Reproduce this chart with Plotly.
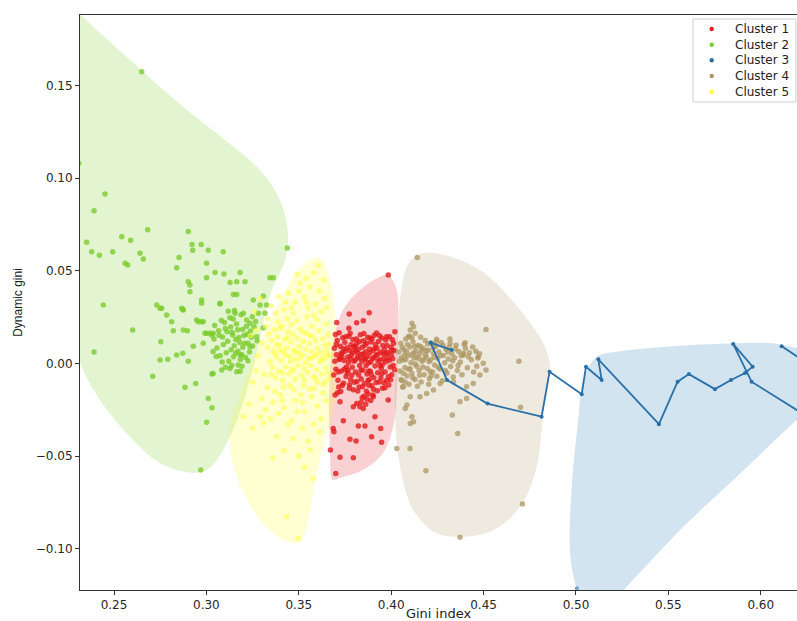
import plotly.graph_objects as go

# ---------------- data ----------------
cluster_names = ["Cluster 1", "Cluster 2", "Cluster 3", "Cluster 4", "Cluster 5"]

# Cluster 1 (red)
c1_x = [0.3984, 0.3773, 0.3881, 0.3705, 0.3813, 0.3849, 0.3771, 0.4020, 0.3975,
        0.3723, 0.3795, 0.3849, 0.3903, 0.3984, 0.3831, 0.3813, 0.3696, 0.3912, 0.3741,
        0.3686, 0.3690, 0.3822, 0.3858, 0.3943, 0.3777, 0.3810, 0.3894, 0.3948, 0.3671,
        0.3723, 0.3795, 0.3700,
        0.3692, 0.3701, 0.3695, 0.3708, 0.3712, 0.3689, 0.3704, 0.3716, 0.3698, 0.3719,
        0.3724, 0.3731, 0.3738, 0.3742, 0.3745, 0.3752, 0.3727, 0.3756, 0.3733, 0.3749, 0.3758, 0.3728,
        0.3763, 0.3767, 0.3771, 0.3775, 0.3779, 0.3783, 0.3787, 0.3791, 0.3795, 0.3798, 0.3769, 0.3781, 0.3793, 0.3776, 0.3789,
        0.3803, 0.3807, 0.3811, 0.3815, 0.3818, 0.3822, 0.3826, 0.3829, 0.3833, 0.3837, 0.3806, 0.3824, 0.3838, 0.3813, 0.3831,
        0.3843, 0.3847, 0.3851, 0.3855, 0.3859, 0.3862, 0.3866, 0.3869, 0.3873, 0.3877, 0.3849, 0.3864, 0.3875, 0.3858, 0.3871,
        0.3883, 0.3887, 0.3891, 0.3895, 0.3898, 0.3902, 0.3906, 0.3909, 0.3913, 0.3917, 0.3889, 0.3904, 0.3915, 0.3881, 0.3896,
        0.3923, 0.3927, 0.3931, 0.3935, 0.3938, 0.3942, 0.3946, 0.3949, 0.3953, 0.3957, 0.3929, 0.3944, 0.3955, 0.3925, 0.3951,
        0.3963, 0.3967, 0.3971, 0.3975, 0.3979, 0.3983, 0.3987, 0.3991, 0.3995, 0.3999, 0.4003, 0.4008, 0.4013, 0.4018, 0.3969, 0.3985, 0.4001, 0.4016,
        0.3703, 0.3714, 0.3722, 0.3735, 0.3741, 0.3754, 0.3762, 0.3773, 0.3785, 0.3797,
        0.3801, 0.3816, 0.3828, 0.3836, 0.3845, 0.3857, 0.3867, 0.3878, 0.3886, 0.3893,
        0.3907, 0.3919, 0.3926, 0.3937, 0.3948, 0.3959, 0.3966, 0.3977, 0.3989, 0.3997,
        0.4006, 0.4011, 0.3718, 0.3747, 0.3778, 0.3819, 0.3852, 0.3884, 0.3921, 0.3961,
        0.3710, 0.3765, 0.3808, 0.3842, 0.3879, 0.3912, 0.3940, 0.3972, 0.4004, 0.3735,
        0.3852, 0.3868, 0.3875, 0.3889, 0.3862, 0.3843, 0.3901, 0.3837]
c1_y = [0.0477, 0.0266, 0.0273, 0.0221, 0.0219, 0.0230, 0.0189, 0.0171, 0.0144,
        -0.0207, -0.0234, -0.0243, -0.0180, -0.0198, -0.0234, -0.0216, -0.0171, -0.0288, -0.0310,
        -0.0351, -0.0369, -0.0338, -0.0338, -0.0351, -0.0409, -0.0419, -0.0396, -0.0426, -0.0468,
        -0.0507, -0.0509, -0.0594,
        0.0081, -0.0032, 0.0012, 0.0124, -0.0091, -0.0063, 0.0047, -0.0128, 0.0156, 0.0021,
        0.0093, -0.0041, 0.0138, -0.0107, 0.0015, 0.0067, -0.0152, -0.0071, 0.0036, 0.0112, -0.0019, 0.0052,
        0.0084, -0.0038, 0.0147, -0.0116, 0.0026, 0.0101, -0.0064, 0.0059, -0.0142, 0.0012, 0.0005, -0.0089, 0.0129, 0.0071, -0.0021,
        0.0091, -0.0047, 0.0131, -0.0098, 0.0034, 0.0076, -0.0128, -0.0011, 0.0155, 0.0048, 0.0018, -0.0063, -0.0085, 0.0106, 0.0027,
        0.0087, -0.0036, 0.0122, -0.0109, 0.0019, 0.0063, -0.0151, -0.0058, 0.0141, 0.0004, 0.0052, -0.0012, -0.0092, 0.0098, 0.0036,
        0.0078, -0.0043, 0.0115, -0.0121, 0.0026, 0.0069, -0.0077, 0.0152, -0.0014, 0.0043, 0.0008, -0.0139, 0.0102, -0.0088, 0.0131,
        0.0083, -0.0051, 0.0118, -0.0101, 0.0021, 0.0062, -0.0028, 0.0137, -0.0134, 0.0049, 0.0012, -0.0079, 0.0096, -0.0148, -0.0009,
        0.0074, -0.0046, 0.0126, -0.0093, 0.0031, 0.0058, -0.0117, 0.0144, -0.0019, 0.0087, -0.0061, 0.0025, 0.0109, -0.0034, 0.0008, -0.0072, 0.0046, 0.0069,
        0.0102, -0.0047, 0.0028, -0.0119, 0.0079, 0.0143, -0.0052, -0.0134, 0.0044, 0.0088,
        -0.0102, 0.0058, 0.0118, -0.0037, -0.0126, 0.0029, 0.0109, -0.0041, 0.0137, -0.0062,
        0.0031, -0.0103, 0.0049, 0.0149, -0.0056, 0.0022, -0.0131, 0.0097, 0.0016, -0.0089,
        0.0128, -0.0012, 0.0165, -0.0031, 0.0163, -0.0149, 0.0161, 0.0056, 0.0164, -0.0104,
        -0.0159, 0.0034, 0.0069, 0.0012, -0.0118, 0.0082, -0.0011, 0.0053, 0.0071, 0.0057,
        -0.0178, -0.0192, -0.0165, -0.0201, -0.0221, -0.0186, -0.0171, -0.0210]

# Cluster 2 (green)
c2_x = [0.2650, 0.2451, 0.2392, 0.2352, 0.2379, 0.2421, 0.2493, 0.2542, 0.2590, 0.2560, 0.2574,
        0.2641, 0.2659, 0.2682, 0.2852, 0.2839, 0.2902, 0.2922, 0.2926, 0.2972, 0.3010, 0.3091,
        0.3001, 0.3047, 0.3095, 0.3182, 0.3128, 0.3164, 0.3209, 0.3001, 0.2902, 0.2911, 0.3344,
        0.3362, 0.3438, 0.2442, 0.2731, 0.2758, 0.2866, 0.2911, 0.2974, 0.3074, 0.3146, 0.3164,
        0.3254, 0.3308, 0.3326, 0.2601, 0.2392, 0.2753, 0.2710, 0.2749, 0.2791, 0.2821, 0.2872,
        0.2839, 0.2872, 0.2902, 0.2884, 0.2942, 0.3010, 0.3030, 0.3001, 0.2969, 0.2929, 0.2897,
        0.2956, 0.2983, 0.3001, 0.3037, 0.2983, 0.3030, 0.3290, 0.3317, 0.3308, 0.3272, 0.3236,
        0.3182, 0.3164, 0.3182, 0.3128, 0.3083, 0.3036, 0.2992, 0.3019, 0.2974, 0.2947, 0.2875,
        0.2812, 0.2785, 0.2749, 0.2875, 0.2974, 0.3074, 0.3155, 0.3200, 0.3218, 0.3236, 0.3281,
        0.2310,
        0.3045, 0.3068, 0.3081, 0.3102, 0.3115, 0.3127, 0.3139, 0.3151, 0.3163, 0.3176,
        0.3188, 0.3196, 0.3208, 0.3221, 0.3233, 0.3057, 0.3074, 0.3092, 0.3108, 0.3121,
        0.3134, 0.3147, 0.3159, 0.3171, 0.3184, 0.3197, 0.3212, 0.3226, 0.3243, 0.3258,
        0.3041, 0.3053, 0.3066, 0.3087, 0.3098, 0.3112, 0.3131, 0.3145, 0.3158, 0.3169,
        0.3181, 0.3192, 0.3203, 0.3217, 0.3238, 0.3251, 0.3266, 0.3104, 0.3137, 0.3172,
        0.3029, 0.3036, 0.3118, 0.3152, 0.3248, 0.3274, 0.3085, 0.3193, 0.3225, 0.3142]
c2_y = [0.1574, 0.0914, 0.0824, 0.0653, 0.0602, 0.0583, 0.0602, 0.0683, 0.0664, 0.0540, 0.0531,
        0.0594, 0.0563, 0.0721, 0.0572, 0.0516, 0.0712, 0.0642, 0.0611, 0.0642, 0.0611, 0.0602,
        0.0540, 0.0491, 0.0482, 0.0491, 0.0437, 0.0440, 0.0440, 0.0462, 0.0440, 0.0423, 0.0462,
        0.0462, 0.0622, 0.0315, 0.0315, 0.0297, 0.0297, 0.0387, 0.0342, 0.0320, 0.0372, 0.0372,
        0.0342, 0.0363, 0.0315, 0.0180, 0.0062, 0.0117, -0.0069, 0.0018, 0.0022, 0.0176, 0.0291,
        0.0045, 0.0054, 0.0012, -0.0129, -0.0108, -0.0189, -0.0240, -0.0318, -0.0576, 0.0093, 0.0176,
        0.0225, 0.0225, 0.0162, 0.0162, 0.0108, -0.0058, 0.0315, 0.0270, 0.0191, 0.0144, 0.0089,
        0.0045, -0.0045, -0.0042, -0.0027, -0.0036, -0.0054, 0.0162, 0.0162, 0.0225, 0.0234, 0.0180,
        0.0225, 0.0261, 0.0297, 0.0288, 0.0324, 0.0324, 0.0270, 0.0270, 0.0234, 0.0216, 0.0270,
        0.1080,
        0.0205, 0.0152, 0.0231, 0.0188, 0.0120, 0.0246, 0.0167, 0.0095, 0.0212, 0.0139,
        0.0262, 0.0183, 0.0108, 0.0157, 0.0061, 0.0083, 0.0041, 0.0102, 0.0057, 0.0011,
        0.0074, 0.0036, 0.0129, 0.0066, 0.0021, 0.0087, 0.0032, 0.0109, 0.0141, 0.0198,
        0.0131, 0.0037, 0.0176, 0.0142, 0.0221, 0.0171, 0.0196, 0.0239, 0.0054, 0.0181,
        0.0112, 0.0047, 0.0151, 0.0201, 0.0175, 0.0094, 0.0226, -0.0021, -0.0012, -0.0009,
        0.0152, 0.0064, 0.0281, 0.0285, 0.0251, 0.0122, 0.0007, -0.0016, 0.0014, 0.0153]

# Cluster 3 (blue, connected line)
c3_x = [0.4327, 0.4213, 0.4302, 0.4521, 0.4814, 0.4857, 0.5031, 0.5054, 0.5139, 0.5121, 0.5449,
        0.5550, 0.5611, 0.5752, 0.5839, 0.5915, 0.5956, 0.5851, 0.5950, 0.6450, 0.6480, 0.6113]
c3_y = [0.0072, 0.0112, -0.0090, -0.0217, -0.0288, -0.0045, -0.0166, -0.0018, -0.0090, 0.0022, -0.0328,
        -0.0099, -0.0058, -0.0139, -0.0090, -0.0052, -0.0018, 0.0104, -0.0099, -0.0410, -0.0150, 0.0093]
c3_extra_x = [0.5004]
c3_extra_y = [-0.1214]

# Cluster 4 (tan)
c4_x = [0.4141, 0.4513, 0.4691, 0.4700, 0.4331, 0.4360, 0.4030, 0.4102, 0.4188, 0.4710, 0.4372,
        0.4372, 0.4408, 0.4112, 0.4121, 0.4103, 0.4076, 0.4085,
        0.4112, 0.4121, 0.4103, 0.4130, 0.4094, 0.4246, 0.4319, 0.4400, 0.4391, 0.4471, 0.4498,
        0.4513, 0.4480, 0.4444, 0.4408, 0.4337, 0.4265, 0.4229, 0.4192, 0.4156, 0.4103, 0.4066,
        0.4041, 0.4047, 0.4052, 0.4058, 0.4063, 0.4069, 0.4074, 0.4079, 0.4085, 0.4091,
        0.4096, 0.4101, 0.4107, 0.4112, 0.4118, 0.4123, 0.4129, 0.4134, 0.4139, 0.4145,
        0.4151, 0.4156, 0.4162, 0.4167, 0.4173, 0.4178, 0.4184, 0.4189, 0.4195, 0.4201,
        0.4207, 0.4212, 0.4218, 0.4224, 0.4229, 0.4235, 0.4241, 0.4247, 0.4252, 0.4258,
        0.4264, 0.4271, 0.4277, 0.4283, 0.4289, 0.4296, 0.4302, 0.4309, 0.4315, 0.4322,
        0.4329, 0.4336, 0.4343, 0.4351, 0.4358, 0.4366, 0.4374, 0.4383, 0.4391, 0.4402,
        0.4412, 0.4423, 0.4434, 0.4446, 0.4458, 0.4469, 0.4054, 0.4072, 0.4088, 0.4103,
        0.4121, 0.4138, 0.4157, 0.4176, 0.4192, 0.4211, 0.4228, 0.4061, 0.4099, 0.4142,
        0.4045, 0.4059, 0.4066, 0.4078, 0.4083, 0.4094, 0.4109, 0.4116, 0.4127, 0.4131,
        0.4148, 0.4154, 0.4165, 0.4171, 0.4186, 0.4198, 0.4205, 0.4216, 0.4232, 0.4244,
        0.4255, 0.4268, 0.4281, 0.4293, 0.4306, 0.4318, 0.4333, 0.4347, 0.4362, 0.4379,
        0.4395, 0.4418, 0.4441, 0.4463, 0.4478, 0.4053, 0.4075, 0.4113, 0.4159, 0.4203]
c4_y = [0.0572, 0.0183, 0.0012, -0.0237, -0.0279, -0.0378, -0.0459, -0.0459, -0.0580, -0.0759, -0.0939,
        -0.0207, -0.0189, -0.0288, -0.0315, -0.0324, -0.0243, -0.0225,
        0.0216, 0.0198, 0.0180, 0.0162, 0.0144, 0.0130, 0.0108, 0.0111, 0.0054, 0.0036, 0.0000,
        -0.0036, -0.0063, -0.0108, -0.0126, -0.0099, -0.0108, -0.0144, -0.0162, -0.0180, -0.0180, -0.0126,
        0.0062, -0.0041, 0.0108, -0.0093, 0.0018, 0.0074, -0.0022, 0.0131, -0.0068, 0.0041,
        -0.0112, 0.0089, 0.0003, -0.0054, 0.0116, 0.0029, -0.0087, 0.0067, -0.0015, 0.0097,
        -0.0039, 0.0052, -0.0101, 0.0012, 0.0082, -0.0061, 0.0124, 0.0035, -0.0027, 0.0071,
        -0.0083, 0.0018, 0.0109, -0.0046, 0.0055, -0.0009, 0.0093, -0.0069, 0.0027, 0.0061,
        -0.0031, 0.0112, -0.0094, 0.0042, 0.0003, 0.0076, -0.0052, 0.0024, 0.0088, -0.0017,
        0.0051, -0.0073, 0.0031, 0.0098, -0.0038, 0.0064, 0.0008, -0.0062, 0.0045, 0.0081,
        -0.0024, 0.0057, 0.0019, -0.0047, 0.0066, 0.0029, 0.0031, 0.0045, 0.0102, -0.0029,
        0.0057, 0.0036, 0.0093, 0.0021, 0.0068, -0.0042, 0.0084, -0.0128, 0.0147, -0.0124,
        0.0011, 0.0087, -0.0053, 0.0019, 0.0064, -0.0032, 0.0046, -0.0078, 0.0091, -0.0004,
        0.0026, -0.0064, 0.0071, -0.0019, 0.0048, 0.0104, 0.0009, -0.0067, 0.0033, 0.0118,
        -0.0021, 0.0044, 0.0097, -0.0038, 0.0062, 0.0131, 0.0014, 0.0077, -0.0011, 0.0041,
        0.0103, 0.0036, 0.0089, -0.0016, 0.0052, -0.0087, -0.0101, 0.0137, 0.0141, -0.0112]

# Cluster 5 (yellow)
c5_x = [0.3352, 0.3358, 0.3363, 0.3369, 0.3374, 0.3379, 0.3385, 0.3391, 0.3396, 0.3402,
        0.3407, 0.3413, 0.3418, 0.3424, 0.3429, 0.3435, 0.3441, 0.3446, 0.3452, 0.3457,
        0.3463, 0.3468, 0.3474, 0.3479, 0.3485, 0.3491, 0.3496, 0.3502, 0.3507, 0.3513,
        0.3518, 0.3524, 0.3529, 0.3535, 0.3541, 0.3546, 0.3552, 0.3557, 0.3563, 0.3568,
        0.3574, 0.3579, 0.3585, 0.3591, 0.3596, 0.3602, 0.3607, 0.3613, 0.3618, 0.3624,
        0.3629, 0.3635, 0.3641, 0.3646, 0.3652, 0.3657, 0.3663, 0.3668, 0.3371, 0.3399,
        0.3427, 0.3455, 0.3482, 0.3511, 0.3538, 0.3566, 0.3594, 0.3622, 0.3649, 0.3661,
        0.3387, 0.3438, 0.3489, 0.3544, 0.3599, 0.3648, 0.3416, 0.3472, 0.3527, 0.3583,
        0.3632, 0.3344, 0.3331, 0.3338,
        0.3605, 0.3506, 0.3443, 0.3561, 0.3633, 0.3480, 0.3530, 0.3590, 0.3420, 0.3640,
        0.3375, 0.3550, 0.3460, 0.3620, 0.3330, 0.3270, 0.3300, 0.3280,
        0.3434, 0.3497, 0.3578, 0.3380, 0.3470, 0.3562, 0.3347, 0.3290, 0.3200, 0.3230,
        0.3300, 0.3360, 0.3420, 0.3480, 0.3530, 0.3600, 0.3650, 0.3400, 0.3510, 0.3570,
        0.3330, 0.3250, 0.3270, 0.3580, 0.3440, 0.3520, 0.3620, 0.3320,
        0.3240, 0.3260, 0.3290, 0.3310, 0.3320, 0.3350, 0.3370, 0.3390, 0.3410, 0.3430,
        0.3450, 0.3470, 0.3490, 0.3500, 0.3520, 0.3540, 0.3560, 0.3580, 0.3600, 0.3610,
        0.3630, 0.3650, 0.3660, 0.3540, 0.3490, 0.3580, 0.3310, 0.3390, 0.3460, 0.3550,
        0.3610, 0.3500, 0.3420, 0.3360, 0.3530, 0.3250, 0.3400, 0.3460, 0.3520, 0.3570,
        0.3350, 0.3410, 0.3470, 0.3530, 0.3590, 0.3640, 0.3380, 0.3440, 0.3500, 0.3560]
c5_y = [0.0123, -0.0021, 0.0067, 0.0181, -0.0076, 0.0034, 0.0142, -0.0043, 0.0098, 0.0015,
        0.0201, -0.0092, 0.0061, 0.0129, -0.0018, 0.0083, 0.0172, -0.0057, 0.0039, 0.0114,
        -0.0031, 0.0157, 0.0072, -0.0084, 0.0021, 0.0135, -0.0012, 0.0093, 0.0188, -0.0066,
        0.0047, 0.0118, -0.0027, 0.0076, 0.0162, -0.0049, 0.0028, 0.0109, -0.0013, 0.0064,
        0.0146, -0.0071, 0.0036, 0.0122, -0.0035, 0.0081, 0.0177, 0.0008, 0.0057, -0.0058,
        0.0131, 0.0022, 0.0096, -0.0024, 0.0068, 0.0154, -0.0081, 0.0043, 0.0052, 0.0071,
        0.0044, 0.0011, 0.0058, 0.0029, 0.0003, 0.0027, 0.0049, 0.0025, 0.0041, 0.0102,
        0.0224, 0.0241, 0.0229, 0.0252, 0.0236, 0.0213, -0.0128, -0.0141, -0.0119, -0.0136,
        -0.0114, 0.0009, 0.0087, 0.0159,
        0.0530, 0.0432, 0.0378, 0.0413, 0.0450, 0.0330, 0.0360, 0.0320, 0.0290, 0.0350,
        0.0270, 0.0300, 0.0300, 0.0280, 0.0240, 0.0180, 0.0110, 0.0040,
        -0.0828, -0.0944, -0.0621, -0.0396, -0.0405, -0.0468, -0.0297, -0.0288, -0.0288, -0.0220,
        -0.0190, -0.0210, -0.0240, -0.0200, -0.0260, -0.0230, -0.0200, -0.0170, -0.0170, -0.0180,
        -0.0130, -0.0100, -0.0040, -0.0330, -0.0330, -0.0350, -0.0300, -0.0250,
        0.0150, 0.0280, 0.0350, -0.0060, 0.0200, 0.0310, -0.0150, 0.0360, -0.0200, 0.0330,
        -0.0120, 0.0270, -0.0260, 0.0390, -0.0210, 0.0330, -0.0140, 0.0260, -0.0100, 0.0390,
        -0.0160, 0.0300, -0.0050, 0.0460, 0.0480, 0.0490, -0.0320, -0.0270, -0.0310, -0.0420,
        -0.0370, -0.0500, -0.0470, -0.0510, -0.0560, -0.0350, 0.0190, 0.0210, 0.0170, 0.0200,
        -0.0060, -0.0050, -0.0040, -0.0090, -0.0080, -0.0100, 0.0100, 0.0140, 0.0060, 0.0150]

# Cluster hull outlines (smoothed envelopes)
h1_x = [0.3984, 0.4030, 0.4037, 0.4030, 0.4010, 0.3956, 0.3847, 0.3723, 0.3685, 0.3669, 0.3665, 0.3685, 0.3739, 0.3831, 0.3923, 0.3984]
h1_y = [0.0477, 0.0396, 0.0196, -0.0160, -0.0344, -0.0484, -0.0576, -0.0619, -0.0630, -0.0452, -0.0160, 0.0110, 0.0288, 0.0396, 0.0460, 0.0477]
h2_x = [0.2200, 0.2332, 0.2587, 0.2857, 0.3101, 0.3290, 0.3398, 0.3442, 0.3425, 0.3344, 0.3290, 0.3220, 0.3111, 0.3003, 0.2895, 0.2749, 0.2603, 0.2424, 0.2316, 0.2200, 0.2150, 0.2200]
h2_y = [0.2000, 0.1869, 0.1637, 0.1399, 0.1205, 0.1043, 0.0881, 0.0692, 0.0557, 0.0369, 0.0130, -0.0144, -0.0430, -0.0576, -0.0587, -0.0538, -0.0414, -0.0198, 0.0000, 0.0300, 0.1200, 0.2000]
h3_x = [0.5050, 0.5004, 0.4968, 0.4977, 0.5012, 0.5040, 0.5112, 0.5220, 0.5491, 0.5851, 0.5996, 0.6122, 0.6250, 0.6320, 0.6194, 0.5851, 0.5581, 0.5310, 0.5150, 0.5050]
h3_y = [-0.1300, -0.1214, -0.1024, -0.0666, -0.0306, -0.0090, 0.0036, 0.0063, 0.0090, 0.0108, 0.0111, 0.0099, 0.0050, -0.0200, -0.0306, -0.0630, -0.0882, -0.1166, -0.1320, -0.1300]
h4_x = [0.4228, 0.4481, 0.4697, 0.4823, 0.4859, 0.4823, 0.4787, 0.4697, 0.4552, 0.4372, 0.4246, 0.4120, 0.4048, 0.4021, 0.4030, 0.4048, 0.4084, 0.4138, 0.4228]
h4_y = [0.0597, 0.0504, 0.0288, 0.0108, -0.0018, -0.0268, -0.0558, -0.0774, -0.0900, -0.0936, -0.0916, -0.0792, -0.0558, -0.0288, 0.0072, 0.0342, 0.0521, 0.0584, 0.0597]
h5_x = [0.3615, 0.3669, 0.3696, 0.3696, 0.3642, 0.3588, 0.3550, 0.3506, 0.3425, 0.3317, 0.3209, 0.3139, 0.3128, 0.3182, 0.3263, 0.3371, 0.3479, 0.3561, 0.3615]
h5_y = [0.0568, 0.0450, 0.0234, -0.0198, -0.0414, -0.0630, -0.0846, -0.0965, -0.0954, -0.0873, -0.0711, -0.0522, -0.0360, -0.0171, 0.0045, 0.0288, 0.0477, 0.0558, 0.0568]

x_ticks = [0.25, 0.30, 0.35, 0.40, 0.45, 0.50, 0.55, 0.60]
y_ticks = [-0.10, -0.05, 0.00, 0.05, 0.10, 0.15]

# ---------------- style ----------------
colors = ["rgb(228,26,28)", "rgb(122,204,41)", "rgb(42,112,168)", "rgb(172,150,98)", "rgb(255,255,51)"]
fills = ["rgba(228,26,28,0.2)", "rgba(122,204,41,0.22)", "rgba(31,119,180,0.2)",
         "rgba(172,150,98,0.2)", "rgba(255,255,51,0.22)"]
point_opacity = [0.8, 0.78, 1.0, 0.75, 0.5]

fig = go.Figure()

hulls = [(h1_x, h1_y), (h2_x, h2_y), (h3_x, h3_y), (h4_x, h4_y), (h5_x, h5_y)]
for (hx, hy), fc in zip(hulls, fills):
    fig.add_trace(go.Scatter(x=hx, y=hy, mode="lines", fill="toself", fillcolor=fc,
                             line=dict(width=0, shape="spline", smoothing=1.0),
                             hoverinfo="skip", showlegend=False))

pts = [(c1_x, c1_y, 0), (c2_x, c2_y, 1), (c4_x, c4_y, 3), (c5_x, c5_y, 4)]
for px, py, i in pts:
    fig.add_trace(go.Scatter(x=px, y=py, mode="markers", name=cluster_names[i],
                             marker=dict(color=colors[i], size=5.5, opacity=point_opacity[i], line=dict(width=0)),
                             showlegend=False))

fig.add_trace(go.Scatter(x=c3_x, y=c3_y, mode="lines+markers", name=cluster_names[2],
                         line=dict(color=colors[2], width=1.8),
                         marker=dict(color=colors[2], size=4), showlegend=False))
fig.add_trace(go.Scatter(x=c3_extra_x, y=c3_extra_y, mode="markers",
                         marker=dict(color=colors[2], size=4, opacity=0.6), showlegend=False))

# ---------------- custom legend (window pixel positions -> paper) ----------------
L, T, W, H = 80, 15, 717, 575
def px2paper(px, py):
    return (px - L) / W, (T + H - py) / H

bx0, by1 = px2paper(693, 19)
bx1, by0 = px2paper(796, 102)
fig.add_shape(type="rect", xref="paper", yref="paper", x0=bx0, x1=bx1, y0=by0, y1=by1,
              line=dict(color="#d0d0d0", width=1), fillcolor="rgba(255,255,255,0.85)", layer="above")
row_y = [29, 44.7, 60.3, 76, 91.7]
for i, ry in enumerate(row_y):
    mx, my = px2paper(711.7, ry)
    fig.add_shape(type="circle", xref="paper", yref="paper",
                  x0=mx - 2.2 / W, x1=mx + 2.2 / W, y0=my - 2.2 / H, y1=my + 2.2 / H,
                  line=dict(width=0), fillcolor=colors[i], layer="above")
    tx, ty = px2paper(733, ry)
    fig.add_annotation(x=tx, y=ty, xref="paper", yref="paper", text=cluster_names[i],
                       showarrow=False, xanchor="left", yanchor="middle",
                       font=dict(family="DejaVu Sans", size=12, color="#222222"))

fig.update_layout(
    width=797, height=621,
    margin=dict(l=80, r=0, t=15, b=31),
    plot_bgcolor="white", paper_bgcolor="white",
    showlegend=False,
    font=dict(family="DejaVu Sans", size=12, color="#262626"),
)
fig.update_xaxes(range=[0.2316, 0.6196], tickvals=x_ticks, tickformat=".2f",
                 ticks="outside", ticklen=4, tickcolor="#333333",
                 showline=True, linecolor="#333333", linewidth=1, mirror=True,
                 showgrid=False, zeroline=False,
                 title=dict(text="Gini index", font=dict(family="DejaVu Sans", size=13, color="#222222"), standoff=4),
                 automargin=False)
fig.update_yaxes(range=[-0.1223, 0.188], tickvals=y_ticks, tickformat=".2f",
                 ticks="outside", ticklen=4, tickcolor="#333333",
                 showline=True, linecolor="#333333", linewidth=1,
                 showgrid=False, zeroline=False,
                 title=dict(text="Dynamic gini", font=dict(family="Liberation Sans", size=12, color="#222222"), standoff=10),
                 automargin=False)

# remove the default page margin so the 797x621 figure fills the window exactly
fig.write_html("out.html",
               config={"displayModeBar": False},
               post_script="document.body.style.margin='0';document.body.style.overflow='hidden';")
